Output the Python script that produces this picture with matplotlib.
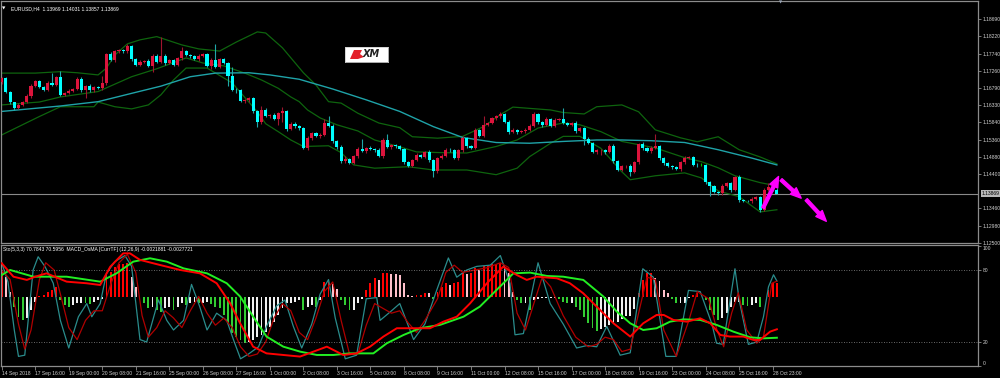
import numpy as np
import matplotlib
matplotlib.use("Agg")
import matplotlib.pyplot as plt
from matplotlib.patches import Polygon

# ---- price data (EURUSD H4) ----
first_open = 1.1695
closes = [
    1.1706, 1.1668, 1.1639, 1.1623, 1.1632, 1.1639, 1.1657, 1.1685, 1.1697, 1.1681,
    1.1674, 1.1692, 1.1688, 1.1709, 1.1660, 1.1665, 1.1671, 1.1676, 1.1704, 1.1674,
    1.1685, 1.1672, 1.1681, 1.1679, 1.1692, 1.1773, 1.1757, 1.1780, 1.1784, 1.1780,
    1.1795, 1.1759, 1.1743, 1.1750, 1.1754, 1.1740, 1.1768, 1.1751, 1.1768, 1.1748,
    1.1755, 1.1743, 1.1761, 1.1780, 1.1771, 1.1766, 1.1759, 1.1768, 1.1772, 1.1741,
    1.1757, 1.1738, 1.1759, 1.1749, 1.1713, 1.1674, 1.1672, 1.1642, 1.1646, 1.1651,
    1.1614, 1.1584, 1.1619, 1.1602, 1.1605, 1.1593, 1.1609, 1.1614, 1.1565, 1.1580,
    1.1574, 1.1568, 1.1513, 1.1540, 1.1554, 1.1545, 1.1550, 1.1582, 1.1575, 1.1531,
    1.1516, 1.1476, 1.1483, 1.1472, 1.1490, 1.1510, 1.1504, 1.1513, 1.1510, 1.1508,
    1.1492, 1.1536, 1.1516, 1.1521, 1.1517, 1.1510, 1.1473, 1.1464, 1.1480, 1.1494,
    1.1488, 1.1501, 1.1479, 1.1448, 1.1485, 1.1492, 1.1508, 1.1506, 1.1485, 1.1506,
    1.1540, 1.1517, 1.1514, 1.1563, 1.1547, 1.1577, 1.1582, 1.1596, 1.1600, 1.1608,
    1.1586, 1.1556, 1.1563, 1.1556, 1.1560, 1.1564, 1.1575, 1.1608, 1.1584, 1.1577,
    1.1593, 1.1575, 1.1591, 1.1594, 1.1582, 1.1577, 1.1582, 1.1559, 1.1568, 1.1538,
    1.1527, 1.1501, 1.1506, 1.1507, 1.1501, 1.1519, 1.1476, 1.1453, 1.1462, 1.1464,
    1.1446, 1.1473, 1.1525, 1.1513, 1.1504, 1.1513, 1.1517, 1.1485, 1.1470, 1.1464,
    1.1460, 1.1455, 1.1473, 1.1485, 1.1488, 1.1467, 1.1466, 1.1466, 1.1418, 1.1407,
    1.1390, 1.1387, 1.1409, 1.1416, 1.1396, 1.1433, 1.1368, 1.1367, 1.1366, 1.1372,
    1.1377, 1.1342, 1.1397, 1.1405, 1.13969, 1.13869,
]
# wick lengths above / below the body, in pips
upper_wick = [
    3, 4, 3, 2, 4, 3, 5, 4, 3, 4, 2, 5, 28, 4, 18, 3, 4, 3, 5, 4,
    3, 4, 2, 4, 19, 4, 5, 3, 4, 3, 5, 3, 4, 6, 3, 4, 5, 4, 53, 4,
    3, 5, 3, 13, 4, 3, 5, 4, 3, 4, 5, 44, 3, 4, 3, 23, 4, 5, 3, 4,
    3, 4, 11, 4, 3, 5, 4, 12, 3, 4, 5, 3, 4, 7, 3, 4, 3, 11, 18, 4,
    3, 4, 8, 3, 4, 5, 29, 3, 4, 3, 5, 4, 16, 3, 4, 3, 4, 5, 3, 4,
    3, 4, 5, 3, 4, 3, 5, 4, 3, 4, 6, 3, 4, 5, 3, 23, 4, 3, 5, 4,
    3, 4, 5, 3, 4, 3, 5, 4, 3, 4, 5, 3, 4, 3, 29, 4, 3, 5, 4, 3,
    4, 3, 5, 4, 3, 4, 5, 3, 4, 3, 4, 5, 3, 4, 3, 4, 35, 3, 4, 5,
    3, 4, 3, 5, 4, 3, 4, 5, 3, 4, 3, 4, 5, 3, 4, 3, 5, 4, 3, 4,
    3, 4, 5, 11, 4, 6,
]
lower_wick = [
    4, 3, 5, 4, 3, 4, 3, 5, 4, 3, 4, 3, 4, 5, 3, 4, 3, 4, 3, 5,
    24, 3, 4, 3, 5, 4, 3, 5, 4, 3, 4, 5, 3, 4, 3, 4, 16, 3, 4, 5,
    3, 4, 3, 5, 4, 3, 4, 5, 3, 4, 10, 3, 4, 5, 28, 4, 7, 3, 4, 5,
    3, 13, 4, 3, 5, 4, 16, 23, 4, 3, 5, 4, 3, 5, 4, 3, 5, 4, 3, 4,
    5, 4, 5, 3, 4, 5, 3, 4, 3, 5, 4, 7, 3, 5, 4, 3, 4, 3, 5, 4,
    3, 4, 5, 15, 4, 3, 5, 4, 3, 4, 5, 3, 4, 3, 5, 4, 3, 4, 5, 3,
    4, 5, 3, 4, 3, 5, 4, 3, 4, 5, 3, 4, 5, 3, 4, 3, 4, 5, 3, 16,
    4, 3, 5, 13, 4, 3, 5, 4, 3, 4, 12, 3, 4, 5, 3, 4, 3, 5, 4, 3,
    4, 3, 5, 4, 3, 4, 5, 3, 4, 28, 3, 4, 5, 3, 4, 3, 5, 4, 3, 4,
    3, 7, 4, 3, 4, 1,
]

# Bollinger bands and moving average, (bar, price) read at sample bars
bb_upper = [(0, 1.1720), (8, 1.1720), (14, 1.1724), (18, 1.1721), (23, 1.1715), (25, 1.1734),
            (27, 1.1770), (30, 1.1801), (33, 1.1812), (37, 1.1821), (43, 1.1798), (47, 1.1787),
            (52, 1.1781), (56, 1.1806), (61, 1.1834), (63, 1.1831), (67, 1.1790), (72, 1.1721),
            (75, 1.1687), (78, 1.1641), (81, 1.1637), (85, 1.1609), (90, 1.1582), (95, 1.1569),
            (98, 1.1544), (104, 1.1540), (110, 1.1545), (115, 1.1572), (119, 1.1605),
            (122, 1.1626), (131, 1.1618), (134, 1.1611), (139, 1.1607), (142, 1.1627),
            (148, 1.1632), (152, 1.1613), (156, 1.1563), (162, 1.1541), (166, 1.1530),
            (171, 1.1544), (176, 1.1508), (181, 1.1488), (185, 1.1469)]
bb_middle = [(0, 1.1632), (9, 1.1640), (14, 1.1654), (23, 1.1669), (31, 1.1710), (37, 1.1732),
             (44, 1.1762), (48, 1.1748), (53, 1.1740), (58, 1.1720), (62, 1.1701), (66, 1.1678),
             (69, 1.1654), (71, 1.1641), (73, 1.1618), (76, 1.1596), (80, 1.1577), (85, 1.1560),
             (89, 1.1535), (95, 1.1516), (99, 1.1502), (105, 1.1500), (111, 1.1499),
             (118, 1.1517), (123, 1.1535), (128, 1.1568), (134, 1.1582), (138, 1.1577),
             (143, 1.1558), (148, 1.1531), (152, 1.1522), (156, 1.1513), (163, 1.1486),
             (167, 1.1475), (171, 1.1458), (175, 1.1436), (181, 1.1417), (185, 1.1408)]
bb_lower = [(0, 1.1549), (9, 1.1600), (14, 1.1627), (22, 1.1627), (23, 1.1640), (27, 1.1627),
            (31, 1.1621), (35, 1.1632), (38, 1.1660), (41, 1.1701), (44, 1.1734), (49, 1.1734),
            (55, 1.1693), (61, 1.1613), (63, 1.1580), (66, 1.1558), (69, 1.1535), (72, 1.1517),
            (78, 1.1519), (81, 1.1500), (84, 1.1466), (89, 1.1457), (97, 1.1461), (103, 1.1452),
            (111, 1.1452), (118, 1.1439), (123, 1.1457), (126, 1.1489), (131, 1.1526),
            (134, 1.1545), (138, 1.1545), (143, 1.1512), (148, 1.1447), (150, 1.1425),
            (156, 1.1436), (163, 1.1444), (167, 1.1430), (171, 1.1394), (176, 1.1378),
            (181, 1.1336), (185, 1.1342)]
ma_line = [(0, 1.1614), (14, 1.1629), (23, 1.1641), (31, 1.1664), (38, 1.1684), (45, 1.1710),
           (51, 1.1720), (59, 1.1721), (64, 1.1715), (71, 1.1703), (79, 1.1676), (87, 1.1646),
           (95, 1.1614), (103, 1.1572), (110, 1.1542), (118, 1.1528), (126, 1.1526),
           (134, 1.1531), (142, 1.1535), (148, 1.1535), (155, 1.1533), (163, 1.1528),
           (171, 1.1508), (179, 1.1485), (185, 1.1466)]

# magenta forecast arrows: (bar, price) start -> end
forecast_arrows = [((181.7, 1.1347), (185.4, 1.1434)),
                   ((186.0, 1.1425), (190.8, 1.1374)),
                   ((192.0, 1.1370), (196.8, 1.1310))]

price_ticks = [1.18690, 1.18220, 1.17740, 1.17260, 1.16790, 1.16330, 1.15840,
               1.15360, 1.14880, 1.14400, 1.13460, 1.12980, 1.12500]

# ---- lower window: OsMA histogram (1e-4), MACD lines (1e-4), stochastic ----
hist = [
    17.6, 14.2, 3.9, -6.4, -13.2, -15.5, -14.4, -8.7, -3.0, 0.9,
    1.6, 3.9, 5.0, 7.3, -1.8, -5.3, -6.4, -5.3, -4.1, -3.7,
    -4.1, -4.6, -3.0, -1.8, -1.4, 15.3, 17.6, 21.0, 22.8, 22.8,
    23.3, 14.2, 7.3, 0.5, -4.1, -7.5, -6.4, -8.7, -9.8, -7.5,
    -6.4, -8.7, -6.4, -4.1, -5.3, -4.1, -3.0, -4.1, -4.1, -3.0,
    -4.6, -6.4, -7.5, -12.1, -17.8, -24.7, -26.9, -29.2, -31.5, -30.4,
    -29.2, -26.9, -25.8, -23.5, -20.1, -16.7, -12.1, -7.5, -4.1, -4.1,
    -3.0, -1.8, -8.7, -6.4, -5.3, -6.4, -1.8, 10.7, 10.7, 9.1,
    5.5, -1.8, -5.3, -8.7, -8.7, -4.1, -1.0, 5.0, 10.0, 13.0,
    11.9, 16.4, 16.4, 16.0, 15.8, 15.3, 9.6, 1.6, 0.9, 1.6,
    1.6, 3.2, 2.7, -1.4, 3.9, 7.3, 10.0, 8.4, 9.6, 10.7,
    16.4, 16.0, 16.9, 19.9, 18.7, 21.5, 22.1, 22.8, 22.8, 23.3,
    22.1, 16.4, 3.9, -1.8, -4.1, -4.1, -8.7, -1.8, -1.4, -0.5,
    -0.5, -0.5, -0.5, -1.4, -3.0, -4.1, -4.1, -6.4, -8.7, -13.2,
    -17.8, -21.2, -23.0, -22.0, -20.5, -19.0, -18.5, -17.0, -15.0, -13.0,
    -12.5, -8.0, 3.0, 12.0, 16.4, 16.4, 13.0, 11.0, 5.0, 2.7,
    -1.4, -4.1, -4.1, -4.1, -0.5, 1.6, 2.7, 0.5, -1.8, -8.7,
    -12.1, -15.5, -14.4, -11.0, -6.4, -3.0, -3.0, -5.3, -6.0, -5.3,
    -4.1, -6.4, 0.5, 5.0, 9.6, 10.0,
]
macd_main = [(0, 23.3), (2.8, 14.1), (6, 11.9), (8, 14.1), (10.7, 16.4), (15.5, 10.7),
             (20.3, 9.6), (23.5, 8.4), (25.9, 20.9), (29, 30.1), (30.6, 30.1), (33, 25.6),
             (37.8, 22.1), (42.6, 18.7), (47.3, 16.4), (51.3, 9.6), (54.5, -4.1), (56.9, -17.8),
             (60, -33.8), (63.2, -38.4), (67.2, -39.5), (71.2, -40.6), (74.4, -37.2),
             (77.6, -33.8), (81.5, -39.5), (84.7, -38.4), (87.9, -33.8), (91.1, -26.9),
             (94.3, -21.2), (99, -21.2), (102.2, -21.2), (105.4, -16.7), (108.6, -13.3),
             (111.8, -4.1), (115.8, 9.6), (119.7, 21.0), (122.9, 15.3), (125.3, 11.9),
             (127.7, 14.1), (132.5, 13.0), (135.6, 9.6), (138.8, 2.7), (142, -6.4),
             (146, -17.8), (150, -26.9), (153.1, -17.8), (156.3, -12.1), (158, -12.1),
             (160.3, -15.5), (163.5, -16.7), (166.7, -14.4), (169.1, -17.8), (171.5, -25.8),
             (173.8, -26.9), (177, -26.9), (179.4, -29.2), (181, -29.2), (183.4, -23.5),
             (185, -21.9)]
macd_signal = [(0, 15.2), (2, 18.7), (7.6, 14.1), (15.5, 14.1), (23.5, 10.7), (27.4, 16.4),
               (31.4, 24.4), (35.4, 26.7), (39.4, 24.4), (43.4, 19.8), (49, 16.4), (53.7, 9.6),
               (56.9, 0.5), (60, -13.2), (63.2, -26.9), (67.2, -33.8), (71.2, -37.2),
               (75.2, -39.5), (79.2, -39.5), (83, -38.4), (88.7, -38.4), (91.9, -31.5),
               (95.9, -25.8), (99.8, -21.2), (104.6, -18.9), (110.2, -13.3), (114.1, -6.4),
               (118.1, 5.0), (122.1, 16.4), (126.1, 16.9), (130.1, 14.6), (134, 14.1),
               (138.8, 11.9), (143.6, 0.5), (146.8, -9.8), (150, -17.8), (153.1, -22.4),
               (156.3, -21.2), (159.5, -16.7), (162.7, -15.1), (166.7, -15.5), (170.6, -18.9),
               (174.6, -23.5), (178.6, -27.4), (181.8, -28.1), (185, -27.7)]
stoch_k = [(0, 86), (1.5, 70), (3, 30), (4, 8), (5.5, 9), (7.5, 80), (8.7, 91), (10.3, 83),
           (12.3, 69), (14, 38), (16, 15), (18.3, 41), (20.3, 52), (21.5, 41), (23.5, 52),
           (25, 77), (27, 87), (29.4, 92), (31, 83), (33, 22), (34.6, 20), (37.4, 55),
           (39.4, 38), (41, 30), (43.4, 38), (45.3, 68), (47.3, 49), (49, 30), (51.3, 44),
           (53.7, 38), (55.3, 22), (57, 6), (58.9, 10), (61.3, 16), (63.2, 33), (65.6, 50),
           (67.6, 55), (69.6, 33), (71.6, 15), (74, 35), (76, 60), (78, 72), (79.6, 40),
           (82, 6), (84.7, 9), (87, 56), (89.5, 57), (90.3, 38), (92.7, 45), (95, 52),
           (98.3, 22), (101, 35), (103.8, 63), (106.6, 90), (108.6, 74), (111, 80),
           (113.4, 83), (116.6, 84), (119, 92), (121.3, 69), (122.5, 26), (124.5, 27),
           (128, 86), (130.9, 52), (134, 35), (137.2, 15), (139.6, 17), (142, 16),
           (144.4, 33), (147.6, 9), (150, 11), (153, 81), (155.5, 74), (158.5, 8), (161, 8),
           (163.9, 63), (166.7, 62), (169.5, 35), (170.6, 19), (172.2, 18), (175, 81),
           (176, 55), (178.2, 18), (180.2, 20), (181.8, 41), (183, 66), (184.2, 76),
           (185, 70.8)]
stoch_d = [(0, 80), (2, 72), (4, 35), (5.5, 14), (7, 30), (9, 72), (10.5, 86), (12.5, 80),
           (14, 60), (16, 32), (18, 22), (20, 38), (22, 46), (24, 46), (26, 68), (28, 86),
           (30, 93), (32, 78), (33.5, 42), (35, 24), (37, 32), (39, 46), (41, 40), (43, 32),
           (45, 46), (47, 58), (49, 44), (51, 34), (53, 40), (55, 32), (57, 16), (59, 8),
           (61, 10), (63, 20), (65, 40), (67, 52), (69, 46), (71, 28), (73, 22), (75, 40),
           (77, 62), (79, 70), (81, 38), (83, 10), (85, 10), (87, 34), (89, 52), (91, 48),
           (93, 44), (95, 46), (97, 36), (99, 28), (101, 38), (104, 56), (106, 78), (108, 84),
           (110, 78), (113, 80), (116, 82), (119, 86), (121, 82), (123, 44), (125, 30),
           (127, 52), (129, 74), (131, 66), (134, 42), (137, 24), (140, 16), (142, 18),
           (144, 24), (146, 22), (148, 12), (150, 14), (152, 44), (154, 74), (156, 72),
           (158, 30), (161, 8), (164, 38), (166, 62), (168.7, 56), (170.7, 30), (172.3, 16),
           (174.2, 44), (175.8, 61), (177.8, 30), (180.2, 19), (181.8, 24), (183.8, 69),
           (185, 70.6)]

date_labels = ["14 Sep 2018", "17 Sep 16:00", "19 Sep 00:00", "20 Sep 08:00", "21 Sep 16:00",
               "25 Sep 00:00", "26 Sep 08:00", "27 Sep 16:00", "1 Oct 00:00", "2 Oct 08:00",
               "3 Oct 16:00", "5 Oct 00:00", "8 Oct 08:00", "9 Oct 16:00", "11 Oct 00:00",
               "12 Oct 08:00", "15 Oct 16:00", "17 Oct 00:00", "18 Oct 08:00", "19 Oct 16:00",
               "23 Oct 00:00", "24 Oct 08:00", "25 Oct 16:00", "28 Oct 23:00"]

FONT = ["Liberation Sans", "DejaVu Sans"]
FS = 3.6
GRID = "#8c8c8c"
TXT = "#d0d0d0"


def px_box(x0, y0, x1, y1):
    return [x0 / 1000, 1 - y1 / 378, (x1 - x0) / 1000, (y1 - y0) / 378]


def style_axis(a):
    a.set_facecolor("black")
    for s in a.spines.values():
        s.set_color(GRID)
        s.set_linewidth(0.9)


fig = plt.figure(figsize=(10, 3.78), dpi=100, facecolor="black")

# ---------------- price window ----------------
ax = fig.add_axes(px_box(1, 1, 978, 243))
style_axis(ax)
x = np.arange(len(closes))
c = np.array(closes)
o = np.array([first_open] + closes[:-1])
hi = np.maximum(o, c) + np.array(upper_wick) * 1e-4
lo = np.minimum(o, c) - np.array(lower_wick) * 1e-4
up = c > o
dn = c < o
body_col = np.where(up, "#dc143c", np.where(dn, "#00ffff", "#00c000"))
wick_col = np.where(up, "#a0142e", np.where(dn, "#1fa8a8", "#00c000"))

ax.vlines(x, lo, hi, colors=wick_col, linewidth=0.8, zorder=3)
body_h = np.maximum(np.abs(c - o), 0.00003)
ax.bar(x, body_h, bottom=np.minimum(o, c), width=0.74, color=body_col,
       linewidth=0, zorder=4)

for band in (bb_upper, bb_middle, bb_lower):
    bx, by = zip(*band)
    ax.plot(bx, by, color="#0e640e", linewidth=0.9, zorder=2)
mx, my = zip(*ma_line)
ax.plot(mx, my, color="#1fa3a8", linewidth=1.0, zorder=2)

ax.axhline(closes[-1], color="#8a8a8a", linewidth=0.8, zorder=1)

for (x0, y0), (x1, y1) in forecast_arrows:
    ax.annotate("", xy=(x1, y1), xytext=(x0, y0),
                arrowprops=dict(arrowstyle="simple,head_length=1.1,head_width=0.9,tail_width=0.3",
                                color="#ff00ff", mutation_scale=7, shrinkA=0, shrinkB=0),
                zorder=6)

ax.set_xlim(-0.17, 233.0)
ax.set_ylim(1.12508, 1.19195)
ax.set_xticks([])
ax.yaxis.tick_right()
ax.set_yticks(price_ticks)
ax.set_yticklabels([f"{p:.5f}" for p in price_ticks], fontsize=FS, family=FONT, color=TXT)
ax.tick_params(axis="y", colors=GRID, length=2, width=0.6, pad=1.5, labelcolor=TXT)
ax.text(1.0035, closes[-1], f"{closes[-1]:.5f}", transform=ax.get_yaxis_transform(),
        fontsize=FS, family=FONT, color="black", va="center", ha="left",
        bbox=dict(boxstyle="square,pad=0.15", facecolor="#b8b8b8", edgecolor="none"))

# ---------------- indicator window ----------------
ax2 = fig.add_axes(px_box(1, 245, 978, 366))
style_axis(ax2)
axh = ax2.twinx()
axm = ax2.twinx()
axh.set_zorder(1)
ax2.set_zorder(2)
axm.set_zorder(3)
axh.set_facecolor("black")
ax2.patch.set_visible(False)
axm.patch.set_visible(False)

hist_cols = []
for i, v in enumerate(hist):
    prev = hist[i - 1] if i > 0 else v
    if v >= 0:
        hist_cols.append("#ff0000" if v >= prev else "#ffc0cb")
    else:
        hist_cols.append("#32cd32" if v < prev else "#f0f0f0")
axh.bar(np.arange(len(hist)), hist, width=0.45, color=hist_cols, linewidth=0)

for a in (axh, axm):
    a.set_ylim(-47.05, 35.8)
    a.tick_params(right=False, labelright=False)
    for s in a.spines.values():
        s.set_visible(False)

kx, ky = zip(*stoch_k)
ax2.plot(kx, ky, color="#2a8c8c", linewidth=0.9)
dx, dy = zip(*stoch_d)
ax2.plot(dx, dy, color="#b00000", linewidth=0.9)
ax2.axhline(80, color=GRID, linewidth=0.6, linestyle=(0, (1, 2)))
ax2.axhline(20, color=GRID, linewidth=0.6, linestyle=(0, (1, 2)))

sx, sy = zip(*macd_signal)
axm.plot(sx, sy, color="#22ee22", linewidth=1.4)
rx, ry = zip(*macd_main)
axm.plot(rx, ry, color="#ff0000", linewidth=1.4)

ax2.set_xlim(-0.17, 233.0)
ax2.set_ylim(0, 100.8)
ax2.yaxis.tick_right()
ax2.set_yticks([0, 20, 80, 100])
ax2.set_yticklabels(["0", "20", "80", "100"], fontsize=FS, family=FONT)
ax2.tick_params(axis="y", colors=GRID, length=2, width=0.6, pad=1.5, labelcolor=TXT)
ylabs = ax2.get_yticklabels()
ylabs[0].set_va("bottom")
ylabs[3].set_va("top")

tick_bars = np.arange(0, len(closes), 8)
ax2.set_xticks(tick_bars)
ax2.set_xticklabels(date_labels, fontsize=FS, family=FONT)
ax2.tick_params(axis="x", colors=GRID, length=3, width=0.6, pad=0.8, labelcolor=TXT)
for lbl in ax2.get_xticklabels():
    lbl.set_ha("left")

# ---------------- captions ----------------
fig.text(2 / 1000, 1 - 9 / 378, "\u25bc", color="white", fontsize=3.2, va="center")
fig.text(11 / 1000, 1 - 9 / 378, "EURUSD,H4  1.13969 1.14031 1.13857 1.13869",
         color="white", fontsize=FS, family=FONT, va="center")
fig.text(3 / 1000, 1 - 250 / 378,
         "Sto(5,3,3) 70.7843 70.5956  MACD_OsMA [CurrTF] (12,26,9) -0.0021881 -0.0027721",
         color="white", fontsize=FS, family=FONT, va="center")
fig.text(781 / 1000, 1 - 2 / 378, "\u25bc", color="#9aa6b8", fontsize=3, va="center",
         ha="center")

# XM logo
lg = fig.add_axes(px_box(345, 47, 388, 62))
lg.set_facecolor("white")
lg.set_xticks([])
lg.set_yticks([])
for s in lg.spines.values():
    s.set_color("#cccccc")
    s.set_linewidth(0.6)
lg.set_xlim(0, 43)
lg.set_ylim(0, 15)
lg.add_patch(Polygon([[5, 3], [9, 12], [17, 12], [15, 8], [19, 5], [13, 3]],
                     closed=True, facecolor="#e3202a", edgecolor="none"))
lg.text(26, 8, "XM", fontsize=7, fontweight="bold", fontstyle="italic", color="#222222",
        ha="center", va="center", family="DejaVu Sans")

fig.savefig("out.png", dpi=100, facecolor="black")
